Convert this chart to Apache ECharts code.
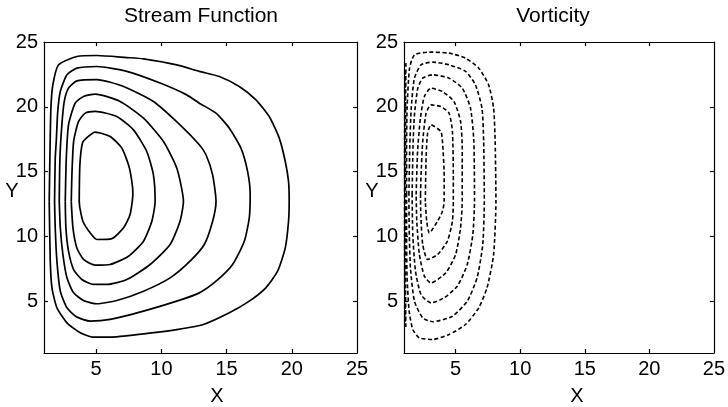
<!DOCTYPE html>
<html><head><meta charset="utf-8">
<script src="https://cdn.jsdelivr.net/npm/echarts@6/dist/echarts.min.js"></script>
<style>html,body{margin:0;padding:0;background:#fff}#c{width:728px;height:407px}</style>
</head><body><div id="c"></div>
<script>
// Axis ticks / labels
const tickLabels = [5, 10, 15, 20, 25];
const tickMarks = [5, 10, 15, 20];
const axisMin = 1, axisMax = 25;

// Stream function contours (x, y), outer to inner
const streamC1 = [[1.40,12.7],[1.45,16],[1.53,19.9],[1.68,21.7],[2.12,23.24],[3.52,23.88],[5.05,23.96],[7.35,23.8],[8.63,23.7],[11.18,23.24],[12.91,22.73],[14.44,22.34],[15.97,21.57],[17.25,20.54],[18.27,19.25],[19.04,17.58],[19.5,15.78],[19.75,14.24],[19.8,12.7],[19.75,11.17],[19.5,9.11],[18.91,7.31],[18.01,6.03],[16.74,5.0],[15.21,4.1],[13.22,3.2],[11.18,2.81],[8.63,2.48],[6.07,2.22],[4.8,2.22],[3.78,2.56],[2.76,3.33],[1.99,4.49],[1.61,6.03],[1.48,8.09],[1.40,12.7]];
const streamC2 = [[1.81,12.7],[1.86,16],[1.94,17.33],[2.05,19.6],[2.25,21.18],[2.76,22.47],[3.52,22.98],[5.05,23.11],[7.35,22.73],[9.9,21.83],[11.94,20.92],[12.91,20.28],[14.19,19.51],[15.21,18.35],[16.1,16.81],[16.61,15.01],[16.81,13.23],[16.74,11.43],[16.36,9.63],[15.46,7.83],[14.19,6.54],[12.91,5.64],[11.18,5.0],[8.63,4.23],[6.07,3.59],[4.54,3.46],[3.52,3.77],[2.76,4.49],[2.25,5.77],[1.99,8.09],[1.86,10.66],[1.81,12.7]];
const streamC3 = [[2.17,12.7],[2.22,16],[2.37,18.6],[2.55,20.4],[2.88,21.44],[3.52,22.0],[5.05,22.1],[7.1,21.57],[9.39,20.41],[11.43,18.61],[12.91,17.07],[13.42,16.3],[13.93,14.75],[14.19,12.7],[13.93,11.17],[13.29,9.37],[12.2,8.09],[10.67,6.8],[8.63,5.77],[6.58,5.05],[5.05,4.8],[4.03,5.05],[3.27,5.64],[2.76,6.8],[2.45,8.6],[2.25,10.66],[2.17,12.7]];
const streamC4 = [[2.63,12.7],[2.71,16.04],[2.88,18.61],[3.39,20.28],[4.03,20.8],[4.93,20.98],[6.84,20.41],[8.63,19.12],[10.16,17.32],[11.18,15.27],[11.69,12.7],[11.43,11.17],[10.67,9.37],[9.14,7.83],[7.35,6.67],[5.82,6.29],[4.8,6.29],[3.9,6.67],[3.27,7.44],[2.88,8.86],[2.68,10.66],[2.63,12.7]];
const streamC5 = [[3.09,12.7],[3.14,14.75],[3.27,17.32],[3.65,18.87],[4.16,19.51],[4.93,19.64],[6.58,19.25],[7.86,18.22],[8.88,16.55],[9.39,14.75],[9.52,12.7],[9.27,11.17],[8.63,9.63],[7.48,8.47],[6.07,7.83],[4.93,7.78],[4.03,8.22],[3.52,9.11],[3.22,10.66],[3.09,12.7]];
const streamC6 = [[3.70,12.7],[3.75,15.5],[3.95,17.2],[4.29,17.62],[4.93,18.04],[6.07,17.71],[6.97,16.81],[7.55,15.27],[7.81,13.47],[7.81,13.23],[7.6,11.69],[7.1,10.66],[6.2,9.83],[5.05,9.76],[4.54,10.27],[3.98,11.17],[3.75,12.2],[3.70,12.7]];

// Vorticity contours (x, y), outer to inner, plus wall contours
const vortV1 = [[1.2,13.23],[1.2,17],[1.24,19.9],[1.43,22.98],[1.81,24.01],[2.96,24.22],[4.49,24.14],[5.77,23.75],[6.79,22.98],[7.55,21.7],[7.94,19.9],[8.06,17.32],[8.12,12.7],[7.94,8.6],[7.43,6.03],[6.79,4.49],[5.77,3.2],[4.49,2.43],[3.22,2.04],[2.19,2.17],[1.68,2.81],[1.4,4.23],[1.24,6.8],[1.2,10],[1.2,13.23]];
const vortV2 = [[1.38,13.23],[1.45,17],[1.56,19.9],[1.81,22.21],[2.32,23.24],[3.22,23.45],[4.49,23.24],[5.77,22.73],[6.53,21.7],[7.04,19.9],[7.17,17.32],[7.22,12.7],[7.1,9.37],[6.66,6.8],[5.9,5.0],[4.75,3.84],[3.22,3.41],[2.45,3.71],[1.81,5.0],[1.5,7.57],[1.4,10.66],[1.38,13.23]];
const vortV3 = [[1.63,13.23],[1.7,17],[1.81,19.38],[2.07,21.44],[2.45,22.21],[3.22,22.47],[4.49,22.21],[5.51,21.44],[6.15,19.9],[6.41,17.32],[6.46,12.7],[6.33,10.14],[5.9,7.83],[5.13,6.16],[4.11,5.26],[3.09,4.87],[2.32,5.51],[1.89,7.31],[1.68,10.14],[1.63,13.23]];
const vortV4 = [[1.94,13.23],[2.05,16.55],[2.27,19.12],[2.58,20.8],[3.09,21.44],[3.98,21.18],[4.87,20.41],[5.38,18.87],[5.51,16.81],[5.51,12.7],[5.38,10.66],[5.0,8.6],[4.24,7.19],[3.09,6.41],[2.58,6.93],[2.19,8.6],[1.99,11.17],[1.94,13.23]];
const vortV5 = [[2.28,13.23],[2.32,14.75],[2.45,17.32],[2.71,19.51],[3.09,20.15],[3.85,20.02],[4.49,19.51],[4.75,18.1],[4.82,14.75],[4.82,12.7],[4.75,11.17],[4.36,9.63],[3.6,8.6],[2.83,8.21],[2.45,9.37],[2.3,11.69],[2.28,13.23]];
const vortV6 = [[2.65,12.7],[2.71,16.04],[2.83,17.97],[3.09,18.61],[3.85,18.1],[3.98,17.32],[4.11,14.75],[4.11,12.7],[3.98,11.94],[3.6,11.17],[2.96,10.27],[2.76,11.17],[2.65,12.7]];
const vortW1 = [[1.08,3.4],[1.06,6],[1.05,10],[1.05,15],[1.06,20],[1.09,23.0]];
const vortW2 = [[1.14,3.0],[1.12,6],[1.11,10],[1.11,15],[1.12,20],[1.15,23.4]];

const streamSet = [streamC1, streamC2, streamC3, streamC4, streamC5, streamC6];
const vortSet = [vortW1, vortW2, vortV1, vortV2, vortV3, vortV4, vortV5, vortV6];

const FONT = 'Liberation Sans';
const grids = [
  {left: 44, top: 42, width: 313, height: 311},
  {left: 404, top: 42, width: 313, height: 311}
];
function xAxes(gi) {
  return [
    {gridIndex: gi, type: 'value', min: axisMin, max: axisMax, position: 'bottom',
     axisLine: {lineStyle: {color: '#000', width: 1.2}},
     axisTick: {inside: true, length: 4, customValues: tickMarks, lineStyle: {color: '#000', width: 1.2}},
     axisLabel: {customValues: tickLabels, color: '#000', fontSize: 20, fontFamily: FONT, margin: 6},
     splitLine: {show: false}},
    {gridIndex: gi, type: 'value', min: axisMin, max: axisMax, position: 'top',
     axisLine: {lineStyle: {color: '#000', width: 1.2}},
     axisTick: {inside: true, length: 4, customValues: tickMarks, lineStyle: {color: '#000', width: 1.2}},
     axisLabel: {show: false}, splitLine: {show: false}}
  ];
}
function yAxes(gi) {
  return [
    {gridIndex: gi, type: 'value', min: axisMin, max: axisMax, position: 'left',
     axisLine: {lineStyle: {color: '#000', width: 1.2}},
     axisTick: {inside: true, length: 4, customValues: tickMarks, lineStyle: {color: '#000', width: 1.2}},
     axisLabel: {customValues: tickLabels, color: '#000', fontSize: 20, fontFamily: FONT, margin: 6},
     splitLine: {show: false}},
    {gridIndex: gi, type: 'value', min: axisMin, max: axisMax, position: 'right',
     axisLine: {lineStyle: {color: '#000', width: 1.2}},
     axisTick: {inside: true, length: 4, customValues: tickMarks, lineStyle: {color: '#000', width: 1.2}},
     axisLabel: {show: false}, splitLine: {show: false}}
  ];
}

const series = [];
streamSet.forEach(c => series.push({
  type: 'line', xAxisIndex: 0, yAxisIndex: 0, data: c, showSymbol: false, smooth: 0.2,
  lineStyle: {color: '#000', width: 1.7}, silent: true
}));
vortSet.forEach(c => series.push({
  type: 'line', xAxisIndex: 2, yAxisIndex: 2, data: c, showSymbol: false, smooth: 0.2,
  lineStyle: {color: '#000', width: 1.6, type: [4, 2.5]}, silent: true
}));

function txt(t, x, y, size) {
  return {type: 'text', x: x, y: y, style: {text: t, fill: '#000', font: size + 'px ' + FONT, align: 'center', verticalAlign: 'middle'}};
}

const chart = echarts.init(document.getElementById('c'), null, {renderer: 'canvas'});
chart.setOption({
  animation: false,
  backgroundColor: '#fff',
  grid: grids,
  xAxis: [...xAxes(0), ...xAxes(1)],
  yAxis: [...yAxes(0), ...yAxes(1)],
  series: series,
  graphic: [
    txt('Stream Function', 201, 16, 21),
    txt('Vorticity', 553, 16, 21),
    txt('X', 217, 396, 20),
    txt('X', 577, 396, 20),
    txt('Y', 12, 191, 20),
    txt('Y', 372, 191, 20)
  ]
});
</script>
</body></html>
